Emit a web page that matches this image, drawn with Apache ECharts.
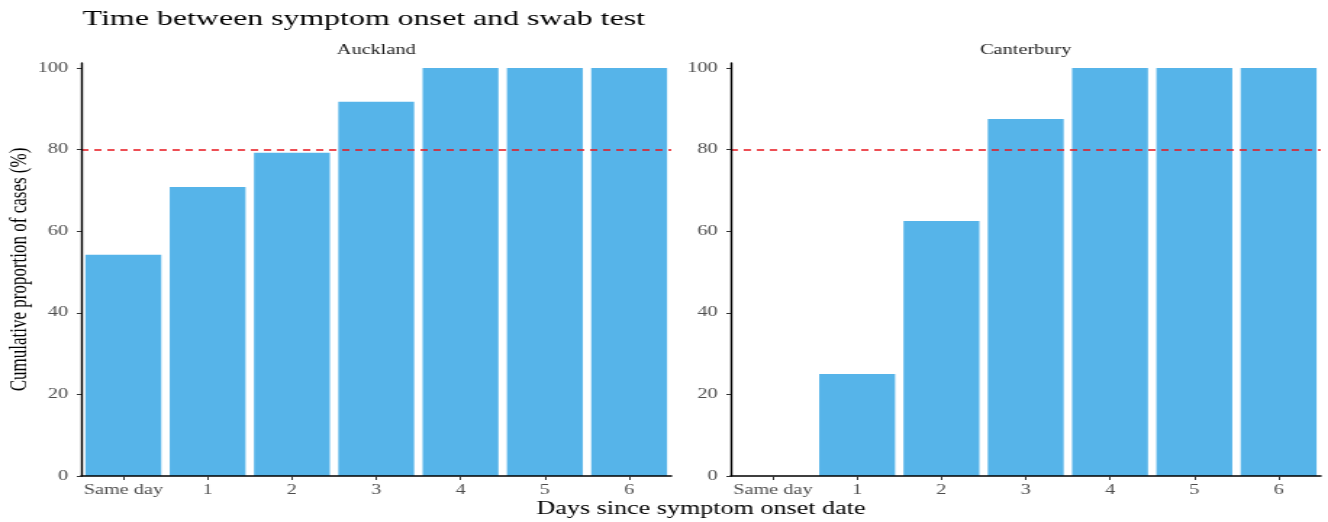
<!DOCTYPE html>
<html>
<head>
<meta charset="utf-8">
<script src="https://cdn.jsdelivr.net/npm/echarts@6/dist/echarts.min.js"></script>
<style>
  html, body { margin: 0; background: #fff; overflow: hidden; }
  /* the original figure is stretched sideways: draw it narrow, then stretch */
  #chart { width: 916px; height: 522px; transform: scaleX(1.4498); transform-origin: 0 0; }
</style>
</head>
<body>
<div id="chart"></div>
<script>
// data
const days = ['Same day', '1', '2', '3', '4', '5', '6'];
const regions = ['Auckland', 'Canterbury'];
const auckland = [54.2, 70.8, 79.2, 91.7, 100, 100, 100];
const canterbury = [0, 25, 62.5, 87.5, 100, 100, 100];
const yTicks = [0, 20, 40, 60, 80, 100];
const target = 80;

const FONT = 'Liberation Serif';
const BAR = '#56B4E9';

const grids = [
  { left: 56, top: 63, width: 407, height: 413 },
  { left: 504, top: 63, width: 407, height: 413 }
];

const xAxisFor = (i) => ({
  type: 'category',
  gridIndex: i,
  data: days,
  z: 5,
  axisLine: { lineStyle: { color: '#000', width: 1.6 } },
  axisTick: { show: true, alignWithLabel: true, length: 4, lineStyle: { color: '#333', width: 1 } },
  axisLabel: { interval: 0, color: '#4d4d4d', fontFamily: FONT, fontSize: 14, margin: 7 }
});

const yAxisFor = (i) => ({
  type: 'value',
  gridIndex: i,
  min: 0,
  max: 101.2,
  z: 5,
  splitLine: { show: false },
  axisLine: { show: true, lineStyle: { color: '#000', width: 1.4 } },
  axisTick: { show: true, length: 3, customValues: yTicks, lineStyle: { color: '#333', width: 1 } },
  axisLabel: { color: '#4d4d4d', fontFamily: FONT, fontSize: 14, margin: 9, customValues: yTicks },
  name: i === 0 ? 'Cumulative proportion of cases (%)' : '',
  nameLocation: 'middle',
  nameRotate: 90,
  nameGap: 34,
  nameTextStyle: { color: '#000', fontFamily: FONT, fontSize: 17 }
});

const barSeries = (i, values) => ({
  type: 'bar',
  name: regions[i],
  xAxisIndex: i,
  yAxisIndex: i,
  data: values,
  barCategoryGap: '10%',
  itemStyle: { color: BAR }
});

// dashed 80% reference line, one per panel
const refLine = (i) => ({
  type: 'line',
  xAxisIndex: i,
  yAxisIndex: i,
  data: [],
  silent: true,
  markLine: {
    silent: true,
    symbol: 'none',
    label: { show: false },
    lineStyle: { color: '#e8141c', type: [5, 4], width: 1.5, opacity: 1 },
    data: [{ yAxis: target }]
  }
});

const option = {
  animation: false,
  title: {
    text: 'Time between symptom onset and swab test',
    left: 52,
    top: 3,
    textStyle: { color: '#000', fontFamily: FONT, fontSize: 22, fontWeight: 'normal' }
  },
  grid: grids,
  xAxis: [xAxisFor(0), xAxisFor(1)],
  yAxis: [yAxisFor(0), yAxisFor(1)],
  series: [barSeries(0, auckland), barSeries(1, canterbury), refLine(0), refLine(1)],
  graphic: [
    {
      type: 'text', x: 259.5, y: 50,
      style: { text: regions[0], fill: '#1a1a1a', font: '14px ' + FONT, textAlign: 'center', textVerticalAlign: 'middle' }
    },
    {
      type: 'text', x: 707.5, y: 50,
      style: { text: regions[1], fill: '#1a1a1a', font: '14px ' + FONT, textAlign: 'center', textVerticalAlign: 'middle' }
    },
    {
      type: 'text', x: 483.5, y: 509,
      style: { text: 'Days since symptom onset date', fill: '#000', font: '18px ' + FONT, textAlign: 'center', textVerticalAlign: 'middle' }
    }
  ]
};

const chart = echarts.init(document.getElementById('chart'));
chart.setOption(option);
</script>
</body>
</html>
